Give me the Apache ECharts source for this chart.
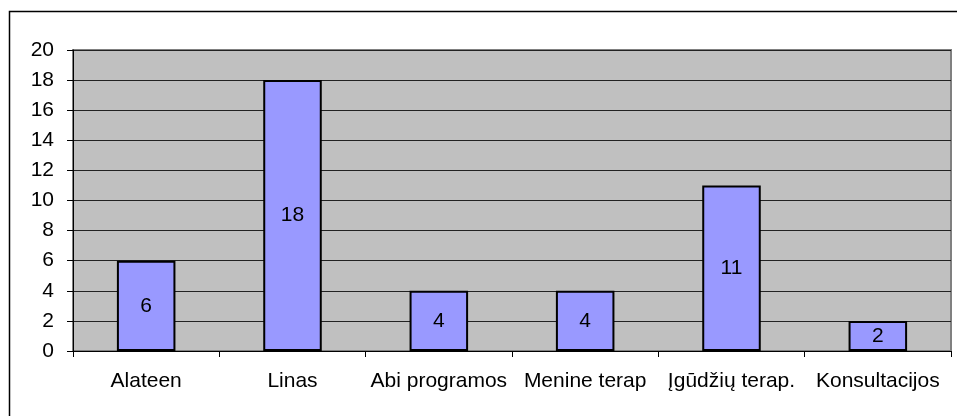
<!DOCTYPE html>
<html>
<head>
<meta charset="utf-8">
<script src="https://cdn.jsdelivr.net/npm/echarts@6/dist/echarts.min.js"></script>
<style>
  html, body { margin: 0; padding: 0; background: #fff; }
  #chart { width: 957px; height: 416px; }
</style>
</head>
<body>
<div id="chart"></div>
<script>
// duomenys
var categories = ['Alateen', 'Linas', 'Abi programos', 'Menine terap', 'Įgūdžių terap.', 'Konsultacijos'];
var values = [6, 18, 4, 4, 11, 2];
var yTicks = [0, 2, 4, 6, 8, 10, 12, 14, 16, 18, 20];

var myChart = echarts.init(document.getElementById('chart'));
var option = {
    animation: false,
    textStyle: { fontFamily: 'Liberation Sans, Arial, sans-serif' },
    graphic: [
        {
            type: 'rect',
            shape: { x: 9.5, y: 11.5, width: 980, height: 440 },
            style: { fill: 'none', stroke: '#000', lineWidth: 1.5 },
            z: 0
        }
    ],
    grid: {
        left: 73,
        right: 6,
        top: 50,
        bottom: 65,
        show: true,
        backgroundColor: '#c0c0c0',
        borderColor: '#808080',
        borderWidth: 2
    },
    xAxis: {
        type: 'category',
        data: categories,
        axisLine: { lineStyle: { color: '#000', width: 1 } },
        axisTick: { show: true, length: 6, alignWithLabel: false, lineStyle: { color: '#000' } },
        axisLabel: { color: '#000', fontSize: 21, margin: 20, interval: 0 }
    },
    yAxis: {
        type: 'value',
        min: 0,
        max: 20,
        interval: 2,
        axisLine: { show: true, lineStyle: { color: '#000', width: 1 } },
        axisTick: { show: true, length: 6, lineStyle: { color: '#000' } },
        axisLabel: {
            color: '#000', fontSize: 21, margin: 19,
            formatter: function (v) { return yTicks.indexOf(v) >= 0 ? String(v) : ''; }
        },
        splitLine: { lineStyle: { color: '#222', width: 1 } }
    },
    series: [
        {
            type: 'bar',
            data: values,
            barWidth: '40%',
            itemStyle: { color: '#9999ff', borderColor: '#000', borderWidth: 2 },
            label: {
                show: true,
                position: 'inside',
                color: '#000',
                fontSize: 21
            }
        }
    ]
};
myChart.setOption(option);
</script>
</body>
</html>
